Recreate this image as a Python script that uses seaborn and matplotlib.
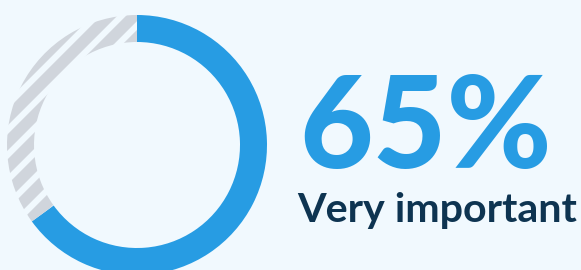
import matplotlib
matplotlib.use("Agg")
import matplotlib.pyplot as plt
import seaborn as sns

# data
categories = ["Very important", "Other"]
shares = [65, 35]
headline = "65%"
caption = "Very important"

BG = "#f1f9fe"
BLUE = "#279ce3"
GREY = "#d0d5dc"
NAVY = "#0e3451"

sns.set_theme(style="white")
plt.rcParams["hatch.linewidth"] = 5.5

fig = plt.figure(figsize=(581 / 150, 270 / 150), dpi=150, facecolor=BG)
ax = fig.add_axes([0, 0, 1, 1])
ax.set_facecolor(BG)

wedges, _ = ax.pie(
    shares,
    startangle=90,
    counterclock=False,
    center=(137, 125),
    radius=130,
    colors=[BLUE, "none"],
    wedgeprops=dict(width=27, linewidth=0),
)
wedges[1].set_hatch("//")
wedges[1].set_edgecolor(GREY)

ax.set_xlim(0, 581)
ax.set_ylim(0, 270)
ax.set_aspect("equal")
ax.axis("off")

ax.text(299, 102, headline, color=BLUE, fontsize=61, fontweight="black",
        family=["Lato", "DejaVu Sans"], ha="left", va="baseline")
ax.text(297, 48, caption, color=NAVY, fontsize=19.8, fontweight="bold",
        family=["Lato", "DejaVu Sans"], ha="left", va="baseline")

fig.savefig("out.png", dpi=150, facecolor=BG)
plt.close(fig)
